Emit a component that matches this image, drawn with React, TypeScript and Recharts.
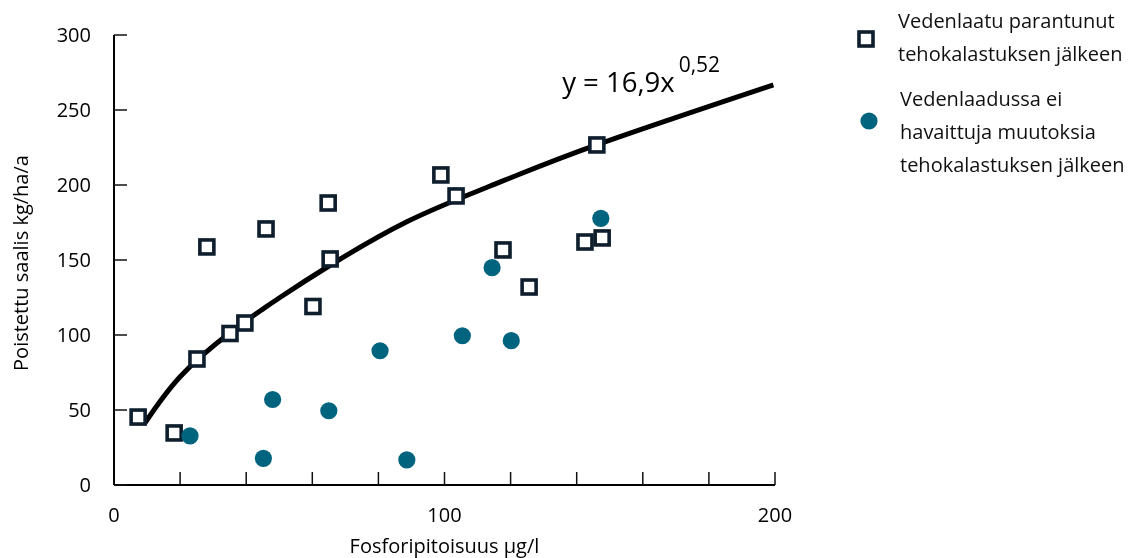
import React from 'react';
import { ScatterChart, Scatter, XAxis, YAxis, Legend, ReferenceDot } from 'recharts';

// Squares: "Vedenlaatu parantunut tehokalastuksen jälkeen"
const improvedX = [7.3, 18.2, 25.1, 28.1, 35.1, 39.6, 46.0, 60.2, 64.8, 65.4, 98.9, 103.5, 117.7, 125.6, 142.5, 146.1, 147.7];
const improvedY = [45.3, 34.7, 84.0, 158.7, 101.0, 108.0, 170.7, 119.0, 188.0, 150.7, 206.7, 192.7, 156.7, 132.0, 162.0, 226.7, 164.7];

// Circles: "Vedenlaadussa ei havaittuja muutoksia tehokalastuksen jälkeen"
const noChangeX = [23.0, 48.0, 45.2, 65.0, 80.5, 88.6, 105.4, 114.4, 120.2, 147.3];
const noChangeY = [32.7, 57.0, 17.8, 49.5, 89.5, 16.7, 99.5, 144.9, 96.2, 177.8];

// Trend curve points
const trendX = [9.4, 20.0, 35.1, 50.2, 65.4, 88.6, 113.8, 146.0, 199.5];
const trendY = [41.5, 72.2, 101.5, 125.0, 146.5, 175.5, 199.3, 226.7, 266.7];

const xTicks = [0, 20, 40, 60, 80, 100, 120, 140, 160, 180, 200];
const xTickLabels = [0, 100, 200];
const yTicks = [0, 50, 100, 150, 200, 250, 300];

const seriesNames = ['Vedenlaatu parantunut tehokalastuksen jälkeen', 'Vedenlaadussa ei havaittuja muutoksia tehokalastuksen jälkeen'];
const legendLines = [
  ['Vedenlaatu parantunut', 'tehokalastuksen jälkeen'],
  ['Vedenlaadussa ei', 'havaittuja muutoksia', 'tehokalastuksen jälkeen'],
];
const equationMain = 'y = 16,9x';
const equationExp = '0,52';
const xLabel = 'Fosforipitoisuus µg/l';
const yLabel = 'Poistettu saalis kg/ha/a';

const FONT = '"Open Sans", sans-serif';
const SQUARE_COLOR = '#0e1e2c';
const CIRCLE_COLOR = '#00647f';

const improved = improvedX.map((x, i) => ({ x, y: improvedY[i] }));
const noChange = noChangeX.map((x, i) => ({ x, y: noChangeY[i] }));
const trend = trendX.map((x, i) => ({ x, y: trendY[i] }));

const SquareShape = (props: any) => {
  const { cx, cy } = props;
  return <rect x={cx - 7} y={cy - 7} width={14} height={14} fill="#fff" stroke={SQUARE_COLOR} strokeWidth={3.6} />;
};
const CircleShape = (props: any) => {
  const { cx, cy } = props;
  return <circle cx={cx} cy={cy} r={8.6} fill={CIRCLE_COLOR} />;
};
const NoShape = () => <g />;

const renderLegend = () => (
  <div style={{ fontFamily: FONT, fontSize: 20, color: '#111', lineHeight: '33px' }}>
    {legendLines.map((lines, i) => (
      <div key={i} style={{ position: 'relative', paddingLeft: 50, marginBottom: 12 }}>
        <svg width={24} height={24} style={{ position: 'absolute', left: 6 + i * 3, top: (i === 0 ? 35 : 39) - 12 }}>
          {i === 0 ? (
            <rect x={5} y={5} width={14} height={14} fill="#fff" stroke={SQUARE_COLOR} strokeWidth={3.6} />
          ) : (
            <circle cx={12} cy={12} r={8.6} fill={CIRCLE_COLOR} />
          )}
        </svg>
        {lines.map((l, j) => (
          <div key={j} style={{ whiteSpace: 'nowrap', marginLeft: i * 2 }}>{l}</div>
        ))}
      </div>
    ))}
  </div>
);

const EquationLabel = (props: any) => {
  const vb = props.viewBox || {};
  const x = vb.x ?? vb.cx ?? 0;
  const y = vb.y ?? vb.cy ?? 0;
  return (
    <text x={x} y={y} fontFamily={FONT} fontSize={27.5} fill="#000">
      <tspan>{equationMain}</tspan>
      <tspan dx={4} dy={-20} fontSize={21}>{equationExp}</tspan>
    </text>
  );
};

const XLabelContent = (props: any) => {
  const { x, width } = props.viewBox;
  return (
    <text x={x + width / 2} y={553} textAnchor="middle" fontFamily={FONT} fontSize={20} fill="#000">
      {xLabel}
    </text>
  );
};

const YLabelContent = (props: any) => {
  const { y, height } = props.viewBox;
  const cx = 12;
  const cy = y + height / 2 + 3;
  return (
    <text x={cx} y={cy} transform={`rotate(-90, ${cx}, ${cy})`} textAnchor="middle" dominantBaseline="central" fontFamily={FONT} fontSize={20} fill="#000">
      {yLabel}
    </text>
  );
};

export default function App() {
  return (
    <div style={{ position: 'fixed', top: 0, left: 8, width: 1121, height: 558 }}>
      <ScatterChart width={1121} height={558} margin={{ top: 35, right: 354, bottom: 8, left: 0 }}>
        <XAxis
          type="number"
          dataKey="x"
          domain={[0, 200]}
          ticks={xTicks}
          interval={0}
          height={65}
          tickSize={-13}
          tickMargin={36}
          tickFormatter={(v: number) => (xTickLabels.includes(v) ? String(v) : '')}
          axisLine={{ stroke: '#000', strokeWidth: 2 }}
          tickLine={{ stroke: '#111', strokeWidth: 1.5 }}
          tick={{ fill: '#000', fontSize: 20, fontFamily: FONT }}
          label={{ content: XLabelContent }}
          allowDataOverflow
        />
        <YAxis
          type="number"
          dataKey="y"
          domain={[0, 300]}
          ticks={yTicks}
          interval={0}
          width={106}
          tickSize={-13}
          tickMargin={36}
          axisLine={{ stroke: '#000', strokeWidth: 2 }}
          tickLine={{ stroke: '#111', strokeWidth: 1.5 }}
          tick={{ fill: '#000', fontSize: 20, fontFamily: FONT }}
          label={{ content: YLabelContent }}
          allowDataOverflow
        />
        <Legend layout="vertical" align="center" verticalAlign="middle" content={renderLegend} wrapperStyle={{ top: 4, left: 840, width: 290 }} />
        <Scatter
          name="trend"
          data={trend}
          line={{ stroke: '#000', strokeWidth: 5 }}
          lineJointType="natural"
          shape={NoShape}
          legendType="none"
          isAnimationActive={false}
        />
        <Scatter name={seriesNames[0]} data={improved} shape={SquareShape} fill={SQUARE_COLOR} isAnimationActive={false} />
        <Scatter name={seriesNames[1]} data={noChange} shape={CircleShape} fill={CIRCLE_COLOR} isAnimationActive={false} />
        <ReferenceDot x={135.6} y={262} r={0} fill="none" stroke="none" label={{ content: EquationLabel }} />
      </ScatterChart>
    </div>
  );
}
